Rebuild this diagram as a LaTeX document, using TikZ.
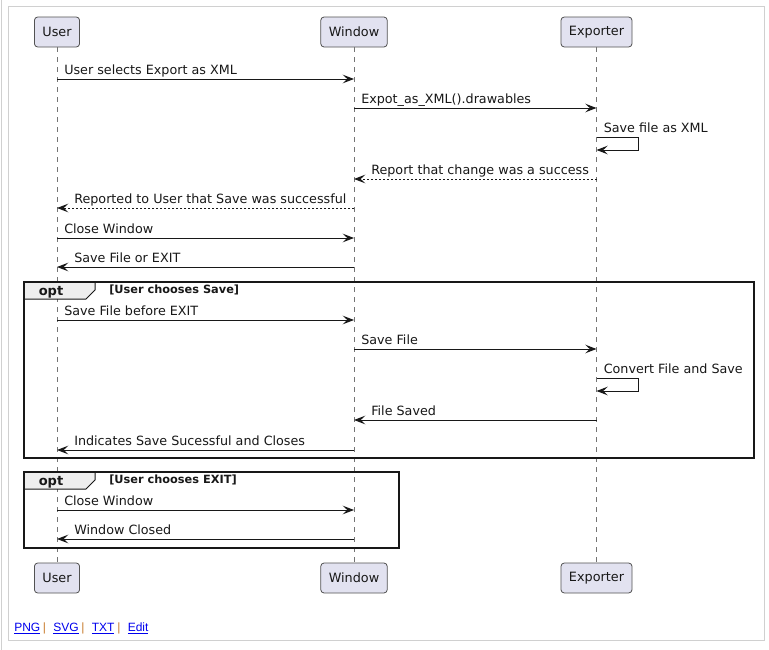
\documentclass[tikz,border=0pt]{standalone}
\usepackage{fontspec}
\setmainfont{DejaVu Sans}
\newfontfamily\linkfont{Liberation Sans}
\usetikzlibrary{arrows.meta}
\definecolor{ink}{HTML}{181818}
\definecolor{partfill}{HTML}{E2E2F0}
\definecolor{pageline}{HTML}{D0D0D0}
\definecolor{tabfill}{HTML}{EEEEEE}
\definecolor{linkblue}{HTML}{0000EE}
\definecolor{pipe}{HTML}{C87A2A}
\tikzset{
  part/.style={draw=ink!75, line width=0.6pt, fill=partfill, rounded corners=2.5pt,
    minimum height=22.5pt, inner xsep=6pt, inner ysep=0pt, font=\fontsize{9.6}{11}\selectfont, text=ink},
  life/.style={draw=ink!60, line width=0.5pt, dash pattern=on 3.75pt off 3.75pt},
  msg/.style={draw=ink, line width=0.75pt, -{Stealth[length=8.5pt,width=6.5pt,inset=3.5pt]}},
  ret/.style={msg, dash pattern=on 1.5pt off 1.5pt},
  lbl/.style={font=\fontsize{9.55}{11}\selectfont, text=ink, inner sep=0pt},
  frm/.style={draw=ink, line width=1.5pt},
  tab/.style={draw=ink, line width=0.75pt, fill=tabfill},
  optlbl/.style={font=\bfseries\fontsize{9.75}{11}\selectfont, text=ink, inner sep=0pt},
  condlbl/.style={font=\bfseries\fontsize{8.5}{10}\selectfont, text=ink, inner sep=0pt},
  lnk/.style={font=\linkfont\fontsize{9}{10}\selectfont, text=linkblue, inner sep=0pt},
  pipelbl/.style={font=\linkfont\fontsize{9}{10}\selectfont, text=pipe, inner sep=0pt}
}
\begin{document}
\begin{tikzpicture}[x=0.75pt, y=-0.75pt]
\useasboundingbox (0,0) rectangle (769,650);
\fill[white] (0,0) rectangle (769,650);
% page frame
\draw[pageline, line width=0.75pt] (8,6) rectangle (764,640);
\draw[pageline, line width=0.75pt] (1.5,0) -- (1.5,650);

% participants
\node[part] (uT) at (57,32) {User};
\node[part] (wT) at (354,32) {Window};
\node[part] (eT) at (596.5,32) {Exporter};
\node[part] (uB) at (57,578) {User};
\node[part] (wB) at (354,578) {Window};
\node[part] (eB) at (596.5,578) {Exporter};

% lifelines
\draw[life] (uT.south) -- (uB.north);
\draw[life] (wT.south) -- (wB.north);
\draw[life] (eT.south) -- (eB.north);

% endpoint coordinates
\foreach \n/\y in {1/79,5/208,6/238,7/267,9/320,13/450,14/510,15/539}{
  \coordinate (u\n) at (uT.south |- 0,\y);
  \coordinate (w\n) at (wT.south |- 0,\y);
}
\foreach \n/\y in {2/108,4/179,10/349,12/420}{
  \coordinate (w\n) at (wT.south |- 0,\y);
  \coordinate (e\n) at (eT.south |- 0,\y);
}
\coordinate (e3a) at (eT.south |- 0,137);
\coordinate (e3b) at (eT.south |- 0,150);
\coordinate (e11a) at (eT.south |- 0,378);
\coordinate (e11b) at (eT.south |- 0,391);

% opt frames
\draw[frm] (24,282) rectangle (754,458);
\draw[tab] (24,282) -- (95,282) -- (95,290) -- (86,299) -- (24,299) -- cycle;
\draw[frm] (24,282) rectangle (754,458);
\node[optlbl, anchor=base] (opt1) at (51,295) {opt};
\node[condlbl, anchor=base west] (c1) at (109,293.5) {[User chooses Save]};

\draw[frm] (24,472) rectangle (399,548);
\draw[tab] (24,472) -- (95,472) -- (95,480) -- (86,489) -- (24,489) -- cycle;
\draw[frm] (24,472) rectangle (399,548);
\node[optlbl, anchor=base] (opt2) at (51,485) {opt};
\node[condlbl, anchor=base west] (c2) at (109,483.5) {[User chooses EXIT]};

% messages
\draw[msg] (u1) -- (w1);
\node[lbl, anchor=base west] at ([xshift=5.25pt,yshift=3.75pt]u1) {User selects Export as XML};

\draw[msg] (w2) -- (e2);
\node[lbl, anchor=base west] at ([xshift=5.25pt,yshift=3.75pt]w2) {Expot\_as\_XML().drawables};

\draw[msg] (e3a) -- ++(42,0) |- (e3b);
\node[lbl, anchor=base west] at ([xshift=5.25pt,yshift=3.4pt]e3a) {Save file as XML};

\draw[ret] (e4) -- (w4);
\node[lbl, anchor=base west] at ([xshift=12.75pt,yshift=3.75pt]w4) {Report that change was a success};

\draw[ret] (w5) -- (u5);
\node[lbl, anchor=base west] at ([xshift=12.75pt,yshift=3.75pt]u5) {Reported to User that Save was successful};

\draw[msg] (u6) -- (w6);
\node[lbl, anchor=base west] at ([xshift=5.25pt,yshift=3.75pt]u6) {Close Window};

\draw[msg] (w7) -- (u7);
\node[lbl, anchor=base west] at ([xshift=12.75pt,yshift=3.75pt]u7) {Save File or EXIT};

\draw[msg] (u9) -- (w9);
\node[lbl, anchor=base west] at ([xshift=5.25pt,yshift=3.75pt]u9) {Save File before EXIT};

\draw[msg] (w10) -- (e10);
\node[lbl, anchor=base west] at ([xshift=5.25pt,yshift=3.75pt]w10) {Save File};

\draw[msg] (e11a) -- ++(42,0) |- (e11b);
\node[lbl, anchor=base west] at ([xshift=5.25pt,yshift=3.4pt]e11a) {Convert File and Save};

\draw[msg] (e12) -- (w12);
\node[lbl, anchor=base west] at ([xshift=12.75pt,yshift=3.75pt]w12) {File Saved};

\draw[msg] (w13) -- (u13);
\node[lbl, anchor=base west] at ([xshift=12.75pt,yshift=3.75pt]u13) {Indicates Save Sucessful and Closes};

\draw[msg] (u14) -- (w14);
\node[lbl, anchor=base west] at ([xshift=5.25pt,yshift=3.75pt]u14) {Close Window};

\draw[msg] (w15) -- (u15);
\node[lbl, anchor=base west] at ([xshift=12.75pt,yshift=3.75pt]u15) {Window Closed};

% links
\node[lnk, anchor=base west] (png) at (14,631) {\underline{PNG}};
\node[pipelbl, anchor=base west] (p1) at (42.5,631) {|};
\node[lnk, anchor=base west] (svg) at (53,631) {\underline{SVG}};
\node[pipelbl, anchor=base west] (p2) at (81,631) {|};
\node[lnk, anchor=base west] (txt) at (91.5,631) {\underline{TXT}};
\node[pipelbl, anchor=base west] (p3) at (117,631) {|};
\node[lnk, anchor=base west] (edit) at (127.5,631) {\underline{Edit}};
\end{tikzpicture}
\end{document}
